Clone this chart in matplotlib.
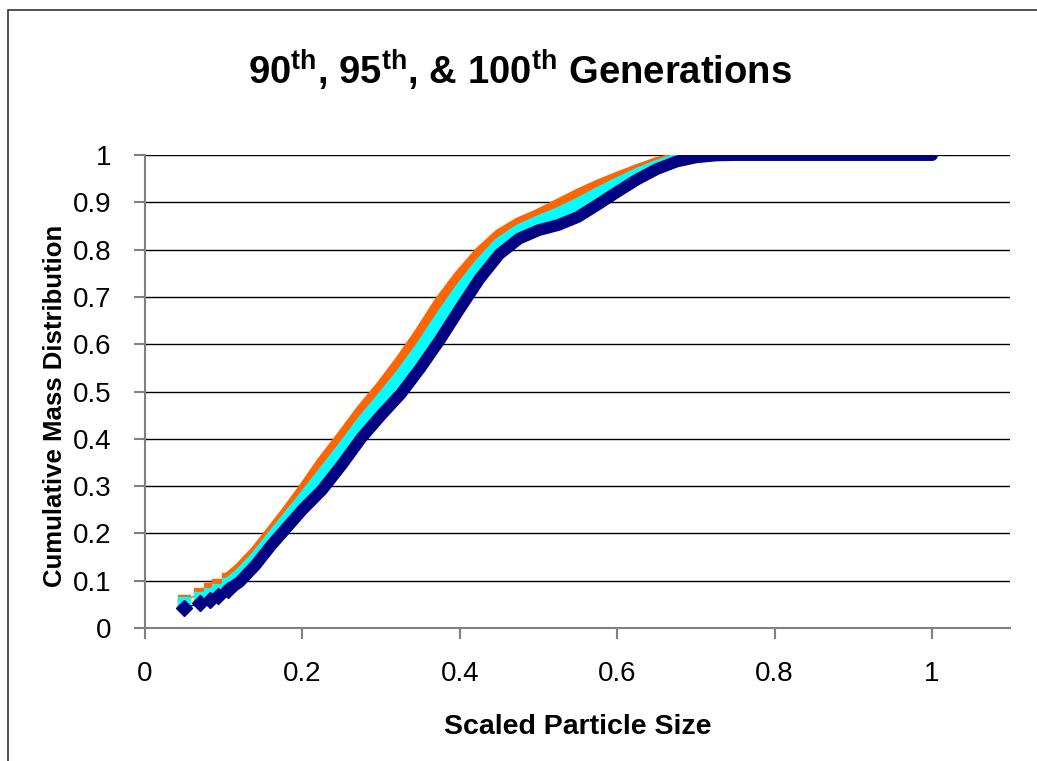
import matplotlib
matplotlib.use("Agg")
import matplotlib.pyplot as plt
from matplotlib.patches import Rectangle

plt.rcParams['font.family'] = ['Liberation Sans', 'DejaVu Sans']
plt.rcParams['mathtext.fontset'] = 'custom'
plt.rcParams['mathtext.rm'] = 'Liberation Sans:bold'
plt.rcParams['mathtext.bf'] = 'Liberation Sans:bold'

# ---- data ----
size = [0.049, 0.070, 0.082, 0.093, 0.105, 0.12, 0.14, 0.16, 0.18, 0.20,
        0.225, 0.25, 0.275, 0.30, 0.325, 0.35, 0.375, 0.40, 0.425, 0.45,
        0.475, 0.50, 0.525, 0.55, 0.575, 0.60, 0.625, 0.65, 0.675, 0.70,
        0.725, 0.75, 0.80, 0.85, 0.90, 0.95, 1.0]

gen90 = [0.058, 0.072, 0.082, 0.091, 0.104, 0.125, 0.160, 0.202, 0.245, 0.290,
         0.350, 0.404, 0.460, 0.510, 0.565, 0.625, 0.690, 0.745, 0.793, 0.831,
         0.856, 0.874, 0.895, 0.916, 0.935, 0.952, 0.968, 0.983, 0.993, 0.999,
         1.0, 1.0, 1.0, 1.0, 1.0, 1.0, 1.0]

gen95 = [0.052, 0.064, 0.072, 0.081, 0.093, 0.113, 0.148, 0.190, 0.231, 0.272,
         0.325, 0.378, 0.434, 0.484, 0.535, 0.592, 0.655, 0.715, 0.768, 0.813,
         0.841, 0.860, 0.877, 0.897, 0.919, 0.940, 0.960, 0.977, 0.990, 0.997,
         1.0, 1.0, 1.0, 1.0, 1.0, 1.0, 1.0]

gen100 = [0.042, 0.052, 0.059, 0.068, 0.080, 0.097, 0.132, 0.174, 0.212, 0.250,
          0.292, 0.345, 0.402, 0.450, 0.495, 0.550, 0.610, 0.675, 0.738, 0.790,
          0.823, 0.841, 0.852, 0.869, 0.895, 0.922, 0.948, 0.970, 0.986, 0.995,
          0.999, 1.0, 1.0, 1.0, 1.0, 1.0, 1.0]

xticks = [0, 0.2, 0.4, 0.6, 0.8, 1.0]
xticklabels = ['0', '0.2', '0.4', '0.6', '0.8', '1']
yticks = [0, 0.1, 0.2, 0.3, 0.4, 0.5, 0.6, 0.7, 0.8, 0.9, 1.0]
yticklabels = ['0', '0.1', '0.2', '0.3', '0.4', '0.5', '0.6', '0.7', '0.8', '0.9', '1']

W, H = 1037, 761
fig = plt.figure(figsize=(W / 100, H / 100), dpi=100)
fig.patch.set_facecolor('white')

# outer chart border (extends beyond the image on right/bottom)
fig.patches.append(Rectangle((8 / W, -0.05), 1.2, (H - 10) / H + 0.05,
                             transform=fig.transFigure, fill=False,
                             edgecolor='#333333', linewidth=1.2))

left, right = 145 / W, 1010 / W
bottom, top = (H - 628) / H, (H - 155) / H
ax = fig.add_axes([left, bottom, right - left, top - bottom])
ax.set_xlim(0, 1.099)
ax.set_ylim(0, 1)

for yv in yticks[1:]:
    ax.axhline(yv, color='black', linewidth=1.0, zorder=1)

series = [
    (gen90, '#FF6600', 's', '#FF6600'),
    (gen95, '#00FFFF', 's', '#FFFF00'),
    (gen100, '#000080', 'D', '#000080'),
]
z = 3
for ys, col, mk, lcol in series:
    ax.plot(size[:5], ys[:5], color=lcol, linewidth=1.0, zorder=z)
    ax.plot(size[4:], ys[4:], color=col, linewidth=8.5, solid_capstyle='round',
            solid_joinstyle='round', zorder=z)
    ax.plot(size[:5], ys[:5], linestyle='none', marker=mk, markersize=8,
            markerfacecolor=col, markeredgecolor=col, zorder=z + 0.5)
    z += 1

for s in ['top', 'right']:
    ax.spines[s].set_visible(False)
for s in ['left', 'bottom']:
    ax.spines[s].set_color('#808080')
    ax.spines[s].set_linewidth(1.5)
    ax.spines[s].set_zorder(2)

ax.set_xticks(xticks)
ax.set_xticklabels(xticklabels)
ax.set_yticks(yticks)
ax.set_yticklabels(yticklabels)
ax.tick_params(axis='both', direction='out', length=8, width=1.5, color='#808080',
               labelsize=20, labelcolor='black')
ax.tick_params(axis='x', pad=16)
ax.tick_params(axis='y', pad=16)

ax.set_xlabel('Scaled Particle Size', fontsize=20.5, fontweight='bold')
ax.xaxis.set_label_coords(0.5, (628 - 727) / 473)
ax.xaxis.label.set_va('center')
ax.set_ylabel('Cumulative Mass Distribution', fontsize=18.5, fontweight='bold')
ax.yaxis.set_label_coords((55 - 145) / 865, (628 - 406) / 473)
ax.yaxis.label.set_va('center')

fig.text(520 / W, 1 - 70 / H,
         r'90$^{\mathrm{th}}$, 95$^{\mathrm{th}}$, & 100$^{\mathrm{th}}$ Generations',
         ha='center', va='center', fontsize=27.5, fontweight='bold')

fig.savefig('out.png', dpi=100, facecolor='white')
